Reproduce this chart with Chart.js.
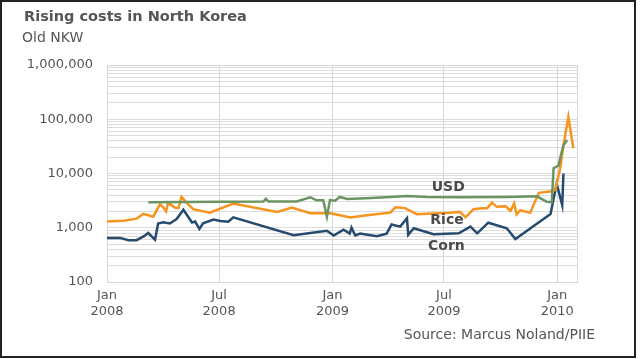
<!DOCTYPE html>
<html><head><meta charset="utf-8">
<script src="https://cdn.jsdelivr.net/npm/chart.js@4"></script>
<style>
html,body{margin:0;padding:0;background:#fff;}
#wrap{position:relative;width:640px;height:359px;overflow:hidden;font-family:"DejaVu Sans",Verdana,sans-serif;color:#555;}
#frame{position:absolute;left:0;top:0;width:636px;height:358px;box-sizing:border-box;border:2px solid #222;pointer-events:none;}
canvas{position:absolute;left:0;top:0;}
.t{position:absolute;white-space:nowrap;}
</style></head><body>
<div id="wrap">
<canvas id="c" width="640" height="359"></canvas>
<div class="t" id="title" style="left:24px;top:8px;font-weight:bold;font-size:14.5px;">Rising costs in North Korea</div>
<div class="t" id="unit" style="left:22px;top:29px;font-size:14px;">Old NKW</div>
<div class="t" id="src" style="right:45px;top:326px;font-size:14px;">Source: Marcus Noland/PIIE</div>
<div id="frame"></div>
</div>
<script>
// Days counted from 1 Jan 2008
const seriesNames = ['USD', 'Rice', 'Corn'];

const cornDays   = [0, 21, 35, 48, 60, 67, 78, 83, 91, 102, 113, 124, 138, 143, 150, 156, 173, 184, 197, 205, 303, 357, 368, 384, 394, 397, 403, 411, 438, 454, 462, 476, 487, 489, 498, 530, 571, 590, 601, 619, 649, 663, 720, 730, 739, 741];
const cornValues = [650, 650, 590, 590, 700, 800, 600, 1200, 1260, 1200, 1450, 2150, 1250, 1300, 950, 1210, 1420, 1330, 1290, 1550, 730, 880, 720, 920, 780, 1000, 720, 780, 700, 780, 1150, 1050, 1500, 740, 980, 760, 790, 1050, 790, 1240, 980, 620, 1800, 6500, 2600, 10000];

const riceDays   = [0, 27, 48, 59, 67, 75, 86, 91, 96, 99, 110, 116, 121, 129, 140, 167, 205, 276, 300, 330, 363, 395, 422, 460, 468, 484, 503, 557, 573, 582, 595, 609, 617, 625, 633, 647, 655, 661, 665, 671, 687, 701, 722, 728, 736, 741, 749, 757];
const riceValues = [1300, 1350, 1470, 1800, 1700, 1600, 2700, 2400, 2000, 2900, 2350, 2300, 3700, 2900, 2200, 1900, 2800, 1950, 2350, 1850, 1850, 1550, 1700, 1900, 2380, 2300, 1780, 1900, 1960, 1560, 2200, 2280, 2280, 2900, 2430, 2500, 2050, 2800, 1760, 2100, 1880, 4400, 4700, 5000, 13000, 33000, 110000, 29000];

const usdDays   = [67, 184, 254, 258, 262, 308, 330, 340, 351, 357, 362, 370, 378, 390, 420, 460, 487, 520, 570, 650, 698, 714, 722, 725, 733, 736, 741, 747];
const usdValues = [2950, 3030, 3050, 3450, 3050, 3050, 3650, 3200, 3200, 1600, 3240, 3150, 3700, 3400, 3500, 3700, 3850, 3700, 3650, 3700, 3800, 3000, 2950, 12500, 14000, 20000, 33000, 41500];

const xTickDays   = [0, 182, 366, 547, 731];
const xTickLabels = [['Jan', '2008'], ['Jul', '2008'], ['Jan', '2009'], ['Jul', '2009'], ['Jan', '2010']];
const yMajorValues = [100, 1000, 10000, 100000, 1000000];
const yTickLabels  = ['100', '1,000', '10,000', '100,000', '1,000,000'];

const colors = { USD: '#6b9462', Rice: '#f7941e', Corn: '#274b6e' };

function pts(days, vals) { return days.map((d, i) => ({ x: d, y: vals[i] })); }

const seriesData = {
  USD: pts(usdDays, usdValues),
  Rice: pts(riceDays, riceValues),
  Corn: pts(cornDays, cornValues)
};

// label anchors (day, value) for in-chart series names
const labelAnchors = { USD: [554, 5600], Rice: [552, 1390], Corn: [551, 445] };

const areaBox = {
  id: 'areaBox',
  beforeDatasetsDraw(chart) {
    const { ctx, chartArea: a } = chart;
    ctx.save();
    ctx.strokeStyle = '#d6d6d6';
    ctx.lineWidth = 1;
    ctx.strokeRect(Math.round(a.left) + 0.5, Math.round(a.top) + 0.5, Math.round(a.right - a.left), Math.round(a.bottom - a.top));
    ctx.restore();
  },
  afterDatasetsDraw(chart) {
    const { ctx, scales } = chart;
    ctx.save();
    ctx.font = 'bold 14px "DejaVu Sans", Verdana, sans-serif';
    ctx.fillStyle = '#4a4a4a';
    ctx.textAlign = 'center';
    ctx.textBaseline = 'middle';
    seriesNames.forEach(n => {
      const [d, v] = labelAnchors[n];
      ctx.fillText(n, scales.x.getPixelForValue(d), scales.y.getPixelForValue(v));
    });
    ctx.restore();
  }
};

new Chart(document.getElementById('c'), {
  type: 'line',
  data: {
    datasets: seriesNames.map(n => ({
      label: n,
      data: seriesData[n],
      borderColor: colors[n],
      backgroundColor: colors[n],
      borderWidth: 2.5,
      pointRadius: 0,
      tension: 0,
      fill: false
    }))
  },
  options: {
    responsive: false,
    devicePixelRatio: 1,
    animation: false,
    parsing: true,
    layout: { padding: { left: 0, top: 65, right: 63, bottom: 0 } },
    plugins: { legend: { display: false }, tooltip: { enabled: false }, title: { display: false } },
    scales: {
      x: {
        type: 'linear',
        min: 0,
        max: 763,
        afterBuildTicks(s) { s.ticks = xTickDays.map(v => ({ value: v })); },
        afterFit(s) { s.height = 77; },
        grid: { color: '#d6d6d6', drawTicks: false, lineWidth: 1 },
        border: { display: false },
        ticks: {
          autoSkip: false,
          maxRotation: 0,
          padding: 5,
          color: '#555',
          font: { family: '"DejaVu Sans", Verdana, sans-serif', size: 13, lineHeight: 1.25 },
          callback(v, i) { return xTickLabels[i]; }
        }
      },
      y: {
        type: 'logarithmic',
        min: 100,
        max: 1000000,
        afterBuildTicks(s) {
          const t = [];
          for (let k = 0; k < yMajorValues.length - 1; k++) {
            for (let m = 1; m < 10; m++) t.push({ value: yMajorValues[k] * m });
          }
          t.push({ value: yMajorValues[yMajorValues.length - 1] });
          s.ticks = t;
        },
        afterFit(s) { s.width = 107; },
        grid: { color: '#dcdcdc', drawTicks: false, lineWidth: 1 },
        border: { display: false },
        ticks: {
          autoSkip: false,
          padding: 14,
          color: '#555',
          font: { family: '"DejaVu Sans", Verdana, sans-serif', size: 13 },
          callback(v) {
            const i = yMajorValues.indexOf(v);
            return i >= 0 ? yTickLabels[i] : '';
          }
        }
      }
    }
  },
  plugins: [areaBox]
});
</script>
</body></html>
